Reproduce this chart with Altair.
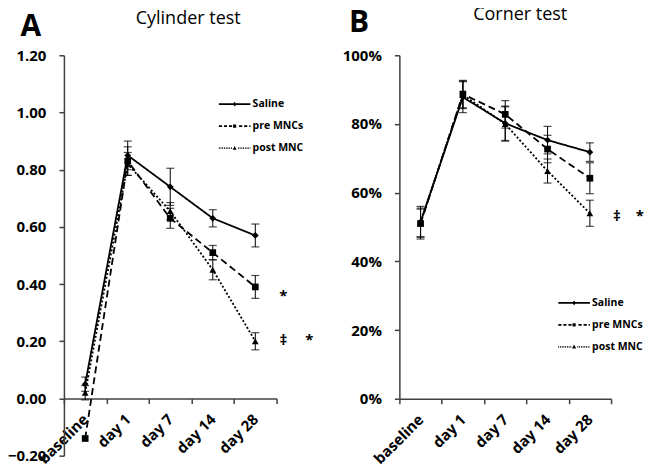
import altair as alt
import pandas as pd

categories = ["baseline", "day 1", "day 7", "day 14", "day 28"]
groups = ["Saline", "pre MNCs", "post MNC"]

# Cylinder test (panel A)
cyl_saline = [0.05, 0.85, 0.74, 0.63, 0.57]
cyl_saline_err = [0.025, 0.05, 0.065, 0.03, 0.04]
cyl_pre = [-0.14, 0.83, 0.63, 0.51, 0.39]
cyl_pre_err = [0.0, 0.05, 0.035, 0.025, 0.04]
cyl_post = [0.02, 0.82, 0.655, 0.45, 0.20]
cyl_post_err = [0.025, 0.04, 0.03, 0.035, 0.03]

# Corner test (panel B)
cor_saline = [0.515, 0.878, 0.802, 0.753, 0.718]
cor_saline_err = [0.045, 0.045, 0.05, 0.04, 0.027]
cor_pre = [0.51, 0.887, 0.828, 0.727, 0.642]
cor_pre_err = [0.045, 0.04, 0.04, 0.04, 0.045]
cor_post = [0.512, 0.885, 0.80, 0.663, 0.54]
cor_post_err = [0.04, 0.04, 0.05, 0.035, 0.038]

# significance marks next to day 28
cyl_col1_text = ["*", "‡"]
cyl_col1_y = [0.37, 0.215]
cyl_col2_text = ["*"]
cyl_col2_y = [0.215]
cor_col1_text = ["‡"]
cor_col1_y = [0.54]
cor_col2_text = ["*"]
cor_col2_y = [0.54]

FONT = "Open Sans"
AXIS_COLOR = "#404040"


def frame(series, errs):
    rows = []
    for g, vals, es in zip(groups, series, errs):
        for c, v, e in zip(categories, vals, es):
            rows.append(dict(cat=c, group=g, value=v, lo=v - e, hi=v + e, err=e))
    return pd.DataFrame(rows)


def rect(x0, x1, h=0.055):
    return f"M{x0:.3f},{-h}H{x1:.3f}V{h}H{x0:.3f}Z"


def seg_path(gaps, dash, gap, marker):
    parts = []
    x = -1.0
    while x < 1.0:
        x1 = min(x + dash, 1.0)
        if not (x1 > -gaps and x < gaps):
            parts.append(rect(x, x1))
        x = x1 + gap
    return " ".join(parts) + " " + marker


diamond = "M0,-0.15L0.12,0L0,0.15L-0.12,0Z"
square = "M-0.1,-0.1H0.1V0.1H-0.1Z"
triangle = "M0,-0.14L0.13,0.1L-0.13,0.1Z"
legend_paths = [
    rect(-1, 1) + " " + diamond,
    seg_path(0.1, 0.2, 0.12, square),
    seg_path(0.12, 0.05, 0.06, triangle),
]


def annot(texts, ys):
    return pd.DataFrame({"cat": ["day 28"] * len(texts), "value": ys, "t": texts})


def panel(df, title, letter, ydomain, yvalues, yfmt, width, height,
          legend_xy, col1, col2, title_dx, letter_xy, ann_dx):
    xscale = alt.Scale(type="band", domain=categories, paddingInner=0, paddingOuter=0)
    zero_pos = height * (ydomain[1] - 0) / (ydomain[1] - ydomain[0])
    xaxis = alt.Axis(title=None, labelAngle=-45, tickBand="extent",
                     offset=zero_pos - height, labelFont=FONT, labelFontSize=15,
                     labelFontWeight="bold", labelColor="black", labelPadding=13,
                     domainColor=AXIS_COLOR, domainWidth=1.5, tickColor=AXIS_COLOR,
                     tickWidth=1.5, tickSize=5, grid=False, labelAlign="right",
                     labelBaseline="middle")
    yaxis = alt.Axis(title=letter, titleAngle=0, titleX=letter_xy[0], titleY=letter_xy[1],
                     titleAlign="left", titleBaseline="alphabetic", titleFont=FONT,
                     titleFontSize=30, titleFontWeight="bold", titleColor="black",
                     values=yvalues, format=yfmt, labelFont=FONT, labelFontSize=15,
                     labelFontWeight="bold", labelColor="black", labelPadding=13,
                     domainColor=AXIS_COLOR, domainWidth=1.5, tickColor=AXIS_COLOR,
                     tickWidth=1.5, tickSize=5, grid=False)
    yscale = alt.Scale(domain=ydomain, nice=False, zero=False)
    X = alt.X("cat:N", sort=categories, scale=xscale, axis=xaxis)

    def Y(field):
        return alt.Y(f"{field}:Q", scale=yscale, axis=yaxis)

    base = alt.Chart(df)
    lines = base.mark_line(color="black", strokeWidth=1.8).encode(
        x=X, y=Y("value"),
        strokeDash=alt.StrokeDash("group:N", scale=alt.Scale(domain=groups, range=[[1, 0], [7, 4], [2, 2]]), legend=None),
        detail="group:N",
    )
    bars = base.transform_filter("datum.err > 0")
    rules = bars.mark_rule(color="black", strokeWidth=1).encode(x=X, y=Y("lo"), y2="hi:Q")
    caps_lo = bars.mark_tick(color="black", thickness=1.2, size=8).encode(x=X, y=Y("lo"))
    caps_hi = bars.mark_tick(color="black", thickness=1.2, size=8).encode(x=X, y=Y("hi"))
    points = base.mark_point(filled=True, color="black", opacity=1, size=45).encode(
        x=X, y=Y("value"),
        shape=alt.Shape("group:N", scale=alt.Scale(domain=groups, range=["diamond", "square", "triangle-up"]), legend=None),
    )
    legend_layer = base.transform_filter("false").mark_point(filled=True, color="black", opacity=1).encode(
        x=X, y=Y("value"),
        shape=alt.Shape("group:N", scale=alt.Scale(domain=groups, range=legend_paths),
                        legend=alt.Legend(title=None, orient="none", legendX=legend_xy[0], legendY=legend_xy[1],
                                          symbolSize=1000, symbolStrokeWidth=0, symbolFillColor="black",
                                          labelFont=FONT, labelFontSize=10.5, labelFontWeight="bold",
                                          labelColor="black", labelOffset=2, rowPadding=0)),
    )
    a1 = alt.Chart(annot(*col1)).mark_text(font=FONT, fontSize=15, fontWeight="bold", color="black",
                                           dx=ann_dx[0], dy=3).encode(x=X, y=Y("value"), text="t:N")
    a2 = alt.Chart(annot(*col2)).mark_text(font=FONT, fontSize=15, fontWeight="bold", color="black",
                                           dx=ann_dx[1], dy=3).encode(x=X, y=Y("value"), text="t:N")
    return alt.layer(lines, rules, caps_lo, caps_hi, points, legend_layer, a1, a2).resolve_scale(
        shape="independent"
    ).properties(
        width=width, height=height,
        title=alt.Title(title, font=FONT, fontSize=18, fontWeight="normal", color="black",
                        anchor="middle", frame="group", dx=title_dx, dy=21),
    )


dfA = frame([cyl_saline, cyl_pre, cyl_post], [cyl_saline_err, cyl_pre_err, cyl_post_err])
dfB = frame([cor_saline, cor_pre, cor_post], [cor_saline_err, cor_pre_err, cor_post_err])

chartA = panel(dfA, "Cylinder test", "A", [-0.2, 1.2], [-0.2, 0, 0.2, 0.4, 0.6, 0.8, 1.0, 1.2], ".2f",
               213, 401, (155, 33), (cyl_col1_text, cyl_col1_y), (cyl_col2_text, cyl_col2_y), 18, (-44, -20),
               (28, 54))
chartB = panel(dfB, "Corner test", "B", [0, 1], [0, 0.2, 0.4, 0.6, 0.8, 1.0], ".0%",
               212, 344, (159, 232), (cor_col1_text, cor_col1_y), (cor_col2_text, cor_col2_y), 15, (-51, -24),
               (27, 50))

chart = alt.hconcat(chartA, chartB, spacing=28).properties(
    padding={"left": -1, "top": -2, "right": 0, "bottom": -2.5}
).configure_view(stroke=None)

chart.save("out.html", embed_options={"renderer": "svg", "actions": False})
